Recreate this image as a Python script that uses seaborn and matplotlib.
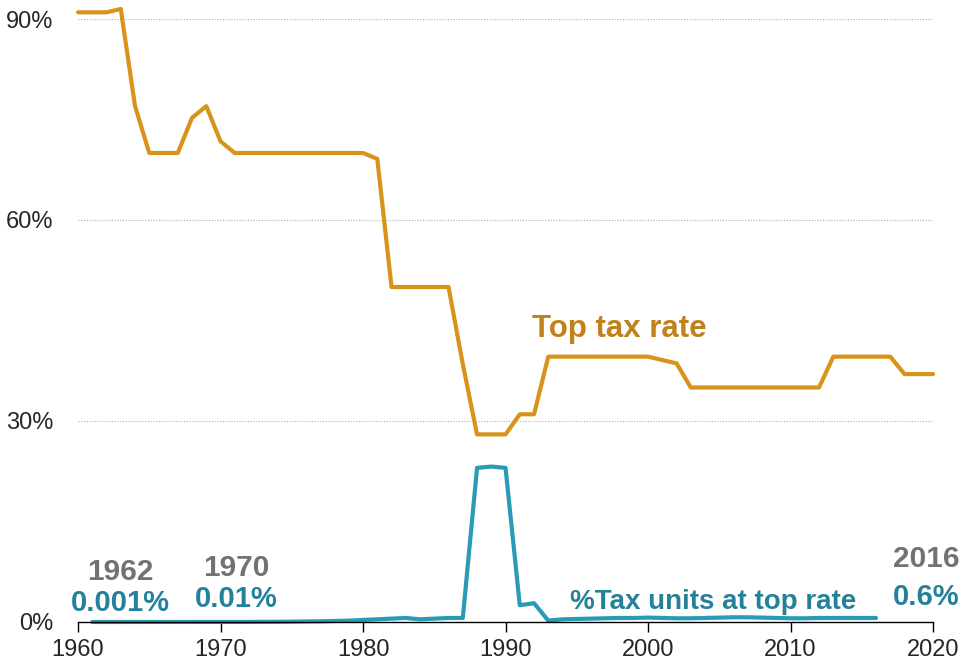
import numpy as np
import pandas as pd
import seaborn as sns
import matplotlib
matplotlib.use("Agg")
import matplotlib.pyplot as plt

# top marginal tax rate, by year
rate_years = list(range(1960, 2021))
top_rate = [91, 91, 91, 91.5, 77, 70, 70, 70, 75.25, 77, 71.75,
            70, 70, 70, 70, 70, 70, 70, 70, 70, 70,
            69.13, 50, 50, 50, 50, 50, 38.5, 28, 28, 28,
            31, 31, 39.6, 39.6, 39.6, 39.6, 39.6, 39.6, 39.6, 39.6,
            39.1, 38.6, 35, 35, 35, 35, 35, 35, 35, 35,
            35, 35, 39.6, 39.6, 39.6, 39.6, 39.6, 37, 37, 37]

# share of tax units in the top bracket
units_years = list(range(1961, 2017))
units_share = [0, 0.001, 0.002, 0.003, 0.005, 0.005, 0.006, 0.008, 0.01, 0.01,
               0.01, 0.01, 0.02, 0.03, 0.05, 0.08, 0.1, 0.15, 0.2, 0.3,
               0.4, 0.5, 0.6, 0.4, 0.5, 0.6, 0.6, 23, 23.2, 23,
               2.5, 2.8, 0.2, 0.4, 0.45, 0.5, 0.55, 0.6, 0.6, 0.65,
               0.6, 0.55, 0.55, 0.6, 0.65, 0.7, 0.7, 0.65, 0.6, 0.55,
               0.55, 0.6, 0.6, 0.6, 0.6, 0.6]

gold = "#D8941A"
gold_txt = "#C0821A"
teal = "#2A9BB5"
teal_txt = "#23829A"
grey_txt = "#767171"

rate_df = pd.DataFrame({"year": rate_years, "value": top_rate})
units_df = pd.DataFrame({"year": units_years, "value": units_share})

sns.set_style("white")
plt.rcParams["font.family"] = ["Liberation Sans", "DejaVu Sans"]

fig = plt.figure(figsize=(9.68, 6.67), dpi=100)
ax = fig.add_axes([0.0806, 0.0675, 0.8833, 0.904])

sns.lineplot(data=rate_df, x="year", y="value", color=gold, linewidth=3.0,
             ax=ax, clip_on=False, solid_joinstyle="round", solid_capstyle="round")
sns.lineplot(data=units_df, x="year", y="value", color=teal, linewidth=3.0,
             ax=ax, clip_on=False, solid_joinstyle="round", solid_capstyle="round")

ax.set_xlim(1960, 2020)
ax.set_ylim(0, 90)
ax.set_xticks(range(1960, 2021, 10))
ax.set_yticks([0, 30, 60, 90])
ax.set_yticklabels(["0%", "30%", "60%", "90%"])
ax.set_xlabel("")
ax.set_ylabel("")

for y in [30, 60, 90]:
    ax.axhline(y, color="#B0B0B0", linestyle=(0, (1, 1.5)), linewidth=0.8, zorder=0)

for s in ["top", "right", "left"]:
    ax.spines[s].set_visible(False)
ax.spines["bottom"].set_color("black")
ax.spines["bottom"].set_linewidth(1)
ax.tick_params(axis="x", direction="out", length=7, width=1, color="black",
               labelsize=17, pad=5, bottom=True)
ax.tick_params(axis="y", length=0, labelsize=17, pad=18)

ax.text(1998.0, 41.5, "Top tax rate", color=gold_txt, fontsize=22.5,
        fontweight="bold", ha="center", va="bottom")
ax.text(2004.6, 1.0, "%Tax units at top rate", color=teal_txt, fontsize=20,
        fontweight="bold", ha="center", va="bottom")

notes = [(1963.0, "1962", "0.001%", 0.8, 5.3),
         (1971.1, "1970", "0.01%", 1.3, 5.9),
         (2019.5, "2016", "0.6%", 1.7, 7.3)]
for x, yr, pct, y1, y2 in notes:
    ax.text(x, y1, pct, color=teal_txt, fontsize=21, fontweight="bold",
            ha="center", va="bottom")
    ax.text(x, y2, yr, color=grey_txt, fontsize=21.5, fontweight="bold",
            ha="center", va="bottom")

plt.savefig("out.png", dpi=100)
